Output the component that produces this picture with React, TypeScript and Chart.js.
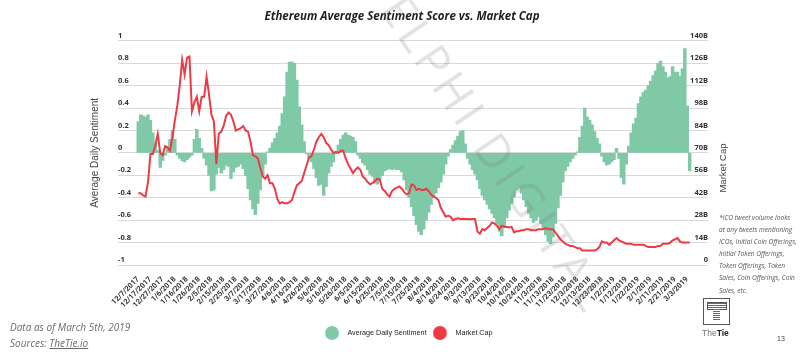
import React, { useEffect, useRef } from "react";
import { Chart, registerables } from "chart.js";

Chart.register(...registerables);

// ---- data ----
const tickLabels = [
  "12/7/2017", "12/17/2017", "12/27/2017", "1/6/2018", "1/16/2018", "1/26/2018", "2/5/2018", "2/15/2018",
  "2/25/2018", "3/7/2018", "3/17/2018", "3/27/2018", "4/6/2018", "4/16/2018", "4/26/2018", "5/6/2018",
  "5/16/2018", "5/26/2018", "6/5/2018", "6/15/2018", "6/25/2018", "7/5/2018", "7/15/2018", "7/25/2018",
  "8/4/2018", "8/14/2018", "8/24/2018", "9/3/2018", "9/13/2018", "9/23/2018", "10/4/2018", "10/14/2018",
  "10/24/2018", "11/3/2018", "11/13/2018", "11/23/2018", "12/3/2018", "12/13/2018", "12/23/2018", "1/2/2019",
  "1/12/2019", "1/22/2019", "2/1/2019", "2/11/2019", "2/21/2019", "3/3/2019",
];

// one value every 2 days, starting 12/7/2017
const DAY_STEP = 2;
const TICK_EVERY = 10;

const sentiment = [
  0.28, 0.34, 0.33, 0.32, 0.34, 0.29, 0.18, 0.08, 0.02, -0.13,
  -0.07, -0.02, 0.05, 0.12, 0.2, 0.12, -0.02, -0.05, -0.07, -0.08,
  -0.06, -0.04, -0.02, 0.12, 0.21, 0.13, 0.04, -0.05, -0.11, -0.2,
  -0.34, -0.33, -0.19, -0.13, -0.18, -0.15, -0.11, -0.12, -0.23, -0.17,
  -0.13, -0.12, -0.1, -0.14, -0.2, -0.32, -0.42, -0.5, -0.55, -0.45,
  -0.33, -0.2, -0.1, 0.01, 0.04, 0.09, 0.13, 0.18, 0.24, 0.35,
  0.5, 0.72, 0.81, 0.81, 0.8, 0.65, 0.41, 0.25, 0.1, -0.01,
  -0.05, -0.08, -0.14, -0.22, -0.29, -0.28, -0.38, -0.3, -0.18, -0.12,
  -0.08, -0.01, 0.07, 0.12, 0.16, 0.18, 0.16, 0.15, 0.14, 0.1,
  -0.02, -0.05, -0.09, -0.11, -0.15, -0.19, -0.21, -0.27, -0.28, -0.24,
  -0.2, -0.16, -0.15, -0.14, -0.15, -0.14, -0.15, -0.15, -0.17, -0.24,
  -0.33, -0.4, -0.48, -0.56, -0.64, -0.7, -0.73, -0.68, -0.6, -0.53,
  -0.46, -0.4, -0.36, -0.31, -0.26, -0.19, -0.1, -0.03, 0.03, 0.07,
  0.11, 0.15, 0.19, 0.2, 0.08, -0.05, -0.1, -0.15, -0.19, -0.24,
  -0.32, -0.38, -0.42, -0.46, -0.5, -0.54, -0.58, -0.63, -0.7, -0.74,
  -0.66, -0.58, -0.51, -0.45, -0.39, -0.33, -0.31, -0.36, -0.42, -0.48,
  -0.54, -0.58, -0.62, -0.6, -0.57, -0.63, -0.67, -0.73, -0.79, -0.81,
  -0.75, -0.63, -0.49, -0.38, -0.26, -0.16, -0.12, -0.08, -0.05, -0.02,
  0.01, 0.14, 0.24, 0.4, 0.32, 0.29, 0.25, 0.19, 0.13, 0.08,
  -0.03, -0.08, -0.11, -0.1, -0.08, -0.06, 0.04, -0.05, -0.22, -0.28,
  -0.1, 0.06, 0.18, 0.26, 0.31, 0.44, 0.5, 0.54, 0.56, 0.6,
  0.64, 0.69, 0.73, 0.8, 0.82, 0.77, 0.72, 0.67, 0.68, 0.77,
  0.72, 0.72, 0.68, 0.75, 0.93, 0.42, -0.16,
];

// market cap in billions USD
const marketCap = [
  44.8, 44.8, 43.4, 42.7, 51.8, 69.3, 69.3, 74.9, 81.9, 70,
  68.6, 74.2, 73.5, 71.4, 79.8, 90.3, 99.4, 112, 128.1, 119,
  129.5, 130.2, 95.9, 101.5, 105, 95.9, 105, 105, 117.6, 106.4,
  93.8, 89.6, 63, 81.9, 83.3, 86.8, 93.1, 95.2, 93.8, 89.6,
  84, 84.7, 85.4, 86.8, 84, 83.3, 77, 68.6, 67.9, 66.5,
  60.9, 55.3, 53.9, 56, 51.1, 51.1, 47.6, 41.3, 38.5, 39.2,
  38.5, 38.5, 39.2, 40.6, 45.5, 49.7, 51.1, 52.5, 57.4, 62.3,
  67.2, 67.9, 72.1, 77, 79.8, 81.9, 79.8, 76.3, 74.9, 72.1,
  70, 70.7, 70, 71.4, 71.4, 66.5, 63, 60.2, 57.4, 59.5,
  60.9, 59.5, 55.3, 53.9, 51.8, 50.4, 51.1, 52.5, 53.9, 53.2,
  47.6, 46.2, 44.1, 42.7, 46.2, 47.6, 48.3, 49, 47.6, 45.5,
  44.1, 44.8, 50.4, 49.7, 46.9, 47.6, 46.9, 46.9, 47.6, 46.2,
  44.1, 42.7, 42, 40.6, 35.7, 32.9, 30.1, 30.8, 30.1, 28,
  28.7, 29.1, 28.7, 28.9, 28.7, 28.7, 28.5, 28.7, 28.7, 21,
  19.6, 22.4, 21.7, 23.1, 24.5, 26.6, 25.9, 24.5, 22.4, 24.5,
  23.8, 23.8, 23.4, 23.8, 20.3, 21, 21, 21.7, 21.7, 22.4,
  22.4, 21.7, 21.7, 21.7, 22.4, 22.4, 22.4, 23.1, 22.4, 22.4,
  22.4, 20.3, 18.2, 16.1, 14.7, 13.3, 12.6, 11.9, 11.9, 11.2,
  10.5, 10.5, 9.1, 9.1, 9.1, 9.1, 9.1, 9.1, 9.8, 11.2,
  14.7, 14, 14, 12.6, 14, 15.4, 16.8, 15.4, 14.7, 14,
  13.3, 13.3, 13.3, 12.6, 12.6, 12.6, 12.6, 12.6, 11.9, 11.2,
  11.2, 11.2, 11.2, 11.9, 11.9, 13.3, 13.3, 13.3, 14, 15.4,
  16.1, 16.8, 14.7, 14, 14, 14, 14,
];

const TITLE = "Ethereum Average Sentiment Score vs. Market Cap";
const SERIES_NAMES = ["Average Daily Sentiment", "Market Cap"];

const GREEN = "#80c9a7";
const RED = "#ee3a46";
const LABEL_COLOR = "#333333";

function circleIcon(color: string, w: number, cx: number, r: number) {
  const c = document.createElement("canvas");
  c.width = w;
  c.height = r * 2;
  const ctx = c.getContext("2d");
  if (ctx) {
    ctx.fillStyle = color;
    ctx.beginPath();
    ctx.arc(cx, r, r, 0, Math.PI * 2);
    ctx.fill();
  }
  return c;
}

export default function App() {
  const canvasRef = useRef<HTMLCanvasElement | null>(null);

  useEffect(() => {
    const canvas = canvasRef.current;
    if (!canvas) return;
    const icons = [circleIcon(GREEN, 28, 7.3, 7), circleIcon(RED, 28, 7.3, 7)];

    const chart = new Chart(canvas, {
      type: "bar",
      data: {
        datasets: [
          {
            type: "bar",
            label: SERIES_NAMES[0],
            data: sentiment.map((v, i) => ({ x: i * DAY_STEP, y: v })),
            backgroundColor: GREEN,
            borderWidth: 0,
            barThickness: 2.8,
            yAxisID: "y",
            order: 2,
          },
          {
            type: "line",
            label: SERIES_NAMES[1],
            data: marketCap.map((v, i) => ({ x: i * DAY_STEP, y: v })),
            borderColor: RED,
            backgroundColor: RED,
            borderWidth: 2,
            pointRadius: 0,
            tension: 0,
            yAxisID: "y1",
            order: 1,
          },
        ],
      } as any,
      options: {
        responsive: false,
        animation: false,
        layout: { padding: { left: 96, right: 92, top: 0, bottom: 5.4 } },
        plugins: {
          title: {
            display: true,
            text: TITLE,
            color: "#1f1f1f",
            font: { family: "'Open Sans', sans-serif", size: 11.5, weight: "bold", style: "italic" },
            padding: { top: 10, bottom: 17 },
          },
          legend: {
            position: "bottom",
            fullSize: false,
            labels: {
              usePointStyle: true,
              pointStyleWidth: 10.4,
              padding: 15,
              color: "#222",
              font: { family: "'Liberation Sans', Arial, sans-serif", size: 7.2 },
              generateLabels: (ch: any) => {
                const items = (Chart.defaults as any).plugins.legend.labels.generateLabels(ch);
                items.forEach((it: any) => {
                  it.pointStyle = icons[it.datasetIndex];
                });
                return items;
              },
              sort: (a: any, b: any) => a.datasetIndex - b.datasetIndex,
            },
          },
          tooltip: { enabled: false },
        },
        scales: {
          x: {
            type: "linear",
            min: -16.6,
            max: 467,
            offset: false,
            afterBuildTicks: (axis: any) => {
              axis.ticks = tickLabels.map((_, i) => ({ value: i * TICK_EVERY }));
            },
            afterFit: (s: any) => {
              s.height = 49.4;
            },
            grid: { display: false },
            border: { display: false },
            ticks: {
              autoSkip: false,
              minRotation: 45,
              maxRotation: 45,
              padding: 2,
              color: LABEL_COLOR,
              font: { family: "Roboto, 'Liberation Sans', sans-serif", size: 7.5, weight: "bold" },
              callback: (_v: any, i: number) => tickLabels[i],
            },
          },
          y: {
            position: "left",
            min: -1,
            max: 1,
            afterFit: (s: any) => {
              s.width = 22;
            },
            grid: { color: "#d9d9d9", lineWidth: 1, drawTicks: false },
            border: { display: false },
            ticks: {
              stepSize: 0.2,
              mirror: true,
              padding: 0,
              labelOffset: -5,
              color: LABEL_COLOR,
              font: { family: "'Open Sans', sans-serif", size: 7.5, weight: "bold" },
              callback: (v: any) => String(Math.round(Number(v) * 10) / 10),
            },
            title: {
              display: true,
              text: SERIES_NAMES[0],
              color: "#444",
              font: { family: "'Liberation Sans', Arial, sans-serif", size: 10 },
              padding: { top: -7, bottom: 0 },
            },
          },
          y1: {
            position: "right",
            min: 0,
            max: 140,
            afterFit: (s: any) => {
              s.width = 0;
            },
            grid: { display: false, drawTicks: false },
            border: { display: false },
            ticks: {
              stepSize: 14,
              mirror: true,
              padding: 0,
              labelOffset: -5,
              color: LABEL_COLOR,
              font: { family: "'Open Sans', sans-serif", size: 7.5, weight: "bold" },
              callback: (v: any) => (Number(v) === 0 ? "0" : `${v}B`),
            },
          },
        },
      } as any,
    });

    return () => chart.destroy();
  }, []);

  const stripes = "repeating-linear-gradient(to bottom, #6a6a6a 0px, #6a6a6a 1px, #ffffff 1px, #ffffff 2px)";

  return (
    <div
      style={{
        position: "absolute",
        left: 0,
        top: 0,
        width: 800,
        height: 352,
        background: "#ffffff",
        overflow: "hidden",
      }}
    >
      <canvas
        ref={canvasRef}
        width={800}
        height={352}
        style={{ position: "absolute", left: 0, top: 0, display: "block" }}
      />

      {/* watermark */}
      <div
        style={{
          position: "absolute",
          left: 487,
          top: 138,
          transform: "translate(-50%, -50%) rotate(56deg)",
          fontFamily: "'Open Sans', sans-serif",
          fontSize: 46,
          letterSpacing: 5,
          color: "rgba(110,110,110,0.2)",
          whiteSpace: "nowrap",
          pointerEvents: "none",
        }}
      >
        DELPHI DIGITAL
      </div>

      {/* right axis title */}
      <div
        style={{
          position: "absolute",
          left: 722,
          top: 168,
          transform: "translate(-50%, -50%) rotate(-90deg)",
          fontFamily: "'Liberation Sans', Arial, sans-serif",
          fontSize: 9.5,
          color: "#444",
          whiteSpace: "nowrap",
        }}
      >
        Market Cap
      </div>

      {/* note */}
      <div
        style={{
          position: "absolute",
          left: 719,
          top: 212,
          fontFamily: "'Open Sans', sans-serif",
          fontStyle: "italic",
          fontSize: 6.6,
          lineHeight: "12.1px",
          color: "#555",
          whiteSpace: "nowrap",
        }}
      >
        *ICO tweet volume looks
        <br />
        at any tweets mentioning
        <br />
        ICOs, Initial Coin Offerings,
        <br />
        Initial Token Offerings,
        <br />
        Token Offerings, Token
        <br />
        Sales, Coin Offerings, Coin
        <br />
        Sales, etc.
      </div>

      {/* footer */}
      <div
        style={{
          position: "absolute",
          left: 10,
          top: 319,
          fontFamily: "'Open Sans', sans-serif",
          fontStyle: "italic",
          fontSize: 10,
          lineHeight: "16px",
          color: "#6b6b6b",
          whiteSpace: "nowrap",
        }}
      >
        Data as of March 5th, 2019
        <br />
        Sources: <span style={{ textDecoration: "underline" }}>TheTie.io</span>
      </div>

      {/* logo */}
      <div
        style={{
          position: "absolute",
          left: 703,
          top: 298,
          width: 27,
          height: 27,
          border: "1.5px solid #555",
          boxSizing: "border-box",
          background: "#fff",
        }}
      >
        <div style={{ position: "absolute", left: 3, top: 3, width: 18, height: 6, background: stripes, border: "1px solid #555" }} />
        <div style={{ position: "absolute", left: 8.5, top: 10, width: 7, height: 12, background: stripes }} />
      </div>
      <div
        style={{
          position: "absolute",
          left: 702,
          top: 328,
          fontFamily: "'Liberation Sans', Arial, sans-serif",
          fontSize: 8.5,
          color: "#777",
          whiteSpace: "nowrap",
        }}
      >
        The<span style={{ fontWeight: "bold", color: "#222" }}>Tie</span>
      </div>

      {/* page number */}
      <div
        style={{
          position: "absolute",
          left: 777,
          top: 335,
          fontFamily: "'Liberation Sans', Arial, sans-serif",
          fontSize: 7,
          color: "#444",
        }}
      >
        13
      </div>
    </div>
  );
}
